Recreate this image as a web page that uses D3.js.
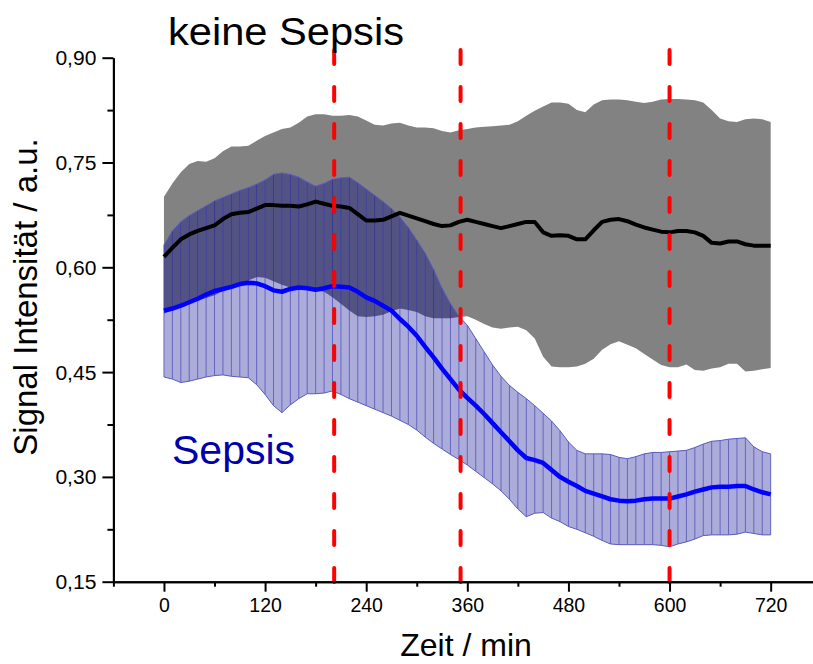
<!DOCTYPE html>
<html>
<head>
<meta charset="utf-8">
<script src="https://cdn.jsdelivr.net/npm/d3@7"></script>
<style>
  body { margin: 0; background: #fff; }
  text { font-family: "Liberation Sans", Arial, sans-serif; }
</style>
</head>
<body>
<script>
//Time points (min)
var time = [0,10,20,30,40,50,60,70,80,90,
    100,110,120,130,140,150,160,170,180,190,
    200,210,220,230,240,250,260,270,280,290,
    300,310,320,330,340,350,360,370,380,390,
    400,410,420,430,440,450,460,470,480,490,
    500,510,520,530,540,550,560,570,580,590,
    600,610,620,630,640,650,660,670,680,690,
    700,710,720];

//keine Sepsis: mean, upper, lower
var kMean = [0.615,0.628,0.640,0.647,0.652,0.656,0.660,0.669,0.676,0.678,
    0.679,0.684,0.689,0.689,0.688,0.688,0.687,0.690,0.694,0.691,
    0.688,0.687,0.685,0.676,0.667,0.667,0.668,0.673,0.678,0.674,
    0.670,0.666,0.662,0.659,0.660,0.665,0.668,0.665,0.662,0.659,
    0.656,0.659,0.662,0.665,0.665,0.650,0.645,0.646,0.645,0.640,
    0.640,0.653,0.665,0.668,0.669,0.666,0.661,0.657,0.654,0.651,
    0.650,0.652,0.652,0.650,0.645,0.635,0.634,0.637,0.637,0.633,
    0.631,0.631,0.631];
var kHi = [0.701,0.720,0.736,0.748,0.752,0.751,0.756,0.766,0.773,0.773,
    0.774,0.781,0.788,0.793,0.798,0.800,0.807,0.816,0.819,0.819,
    0.817,0.817,0.818,0.816,0.810,0.804,0.803,0.806,0.807,0.803,
    0.800,0.800,0.799,0.795,0.793,0.796,0.798,0.800,0.801,0.802,
    0.803,0.804,0.809,0.817,0.824,0.830,0.836,0.836,0.834,0.825,
    0.822,0.833,0.839,0.840,0.840,0.839,0.837,0.835,0.837,0.840,
    0.841,0.841,0.840,0.839,0.836,0.825,0.813,0.809,0.808,0.812,
    0.813,0.812,0.808];
var kLo = [0.534,0.538,0.543,0.548,0.552,0.556,0.560,0.566,0.571,0.576,
    0.581,0.586,0.585,0.580,0.575,0.571,0.570,0.568,0.567,0.565,
    0.557,0.548,0.538,0.530,0.529,0.530,0.532,0.537,0.541,0.539,
    0.536,0.530,0.527,0.527,0.527,0.529,0.530,0.525,0.519,0.514,
    0.512,0.514,0.515,0.510,0.498,0.472,0.458,0.457,0.457,0.458,
    0.462,0.469,0.482,0.490,0.494,0.489,0.484,0.476,0.468,0.460,
    0.457,0.457,0.461,0.453,0.452,0.455,0.457,0.462,0.462,0.451,
    0.452,0.454,0.456];

//Sepsis: mean, upper, lower
var sMean = [0.538,0.541,0.545,0.550,0.555,0.561,0.566,0.569,0.572,0.576,
    0.578,0.577,0.573,0.567,0.565,0.569,0.571,0.570,0.568,0.570,
    0.573,0.572,0.571,0.565,0.557,0.552,0.545,0.538,0.526,0.515,
    0.502,0.486,0.471,0.455,0.440,0.425,0.413,0.402,0.390,0.377,
    0.364,0.351,0.338,0.327,0.324,0.320,0.310,0.300,0.293,0.287,
    0.280,0.276,0.272,0.268,0.266,0.265,0.266,0.268,0.269,0.269,
    0.269,0.272,0.275,0.279,0.282,0.285,0.286,0.286,0.287,0.287,
    0.282,0.278,0.275];
var sHi = [0.632,0.652,0.665,0.674,0.681,0.688,0.695,0.700,0.705,0.710,
    0.714,0.719,0.725,0.733,0.735,0.733,0.729,0.722,0.716,0.720,
    0.726,0.728,0.729,0.721,0.712,0.703,0.694,0.684,0.672,0.657,
    0.639,0.620,0.597,0.570,0.548,0.530,0.517,0.498,0.479,0.460,
    0.444,0.431,0.421,0.412,0.402,0.391,0.380,0.366,0.350,0.338,
    0.333,0.333,0.333,0.332,0.328,0.326,0.329,0.333,0.335,0.335,
    0.336,0.337,0.338,0.342,0.347,0.351,0.352,0.354,0.355,0.356,
    0.343,0.336,0.333];
var sLo = [0.443,0.440,0.435,0.437,0.440,0.443,0.445,0.446,0.444,0.443,
    0.442,0.432,0.418,0.402,0.392,0.403,0.412,0.419,0.419,0.420,
    0.423,0.418,0.412,0.407,0.402,0.397,0.392,0.387,0.381,0.375,
    0.367,0.357,0.348,0.340,0.332,0.325,0.317,0.308,0.299,0.290,
    0.280,0.268,0.254,0.243,0.248,0.249,0.241,0.236,0.229,0.225,
    0.220,0.215,0.209,0.204,0.203,0.203,0.203,0.203,0.203,0.202,
    0.200,0.204,0.207,0.211,0.216,0.217,0.217,0.217,0.218,0.221,
    0.219,0.217,0.217];

//Marker times (red dashed lines)
var markers = [202, 352, 600];

//Ticks
var xTicks = [0, 120, 240, 360, 480, 600, 720];
var xMinor = [-60, 60, 180, 300, 420, 540, 660];
var yTicks = [0.15, 0.30, 0.45, 0.60, 0.75, 0.90];
var yMinor = [0.225, 0.375, 0.525, 0.675, 0.825];
var yTickLabels = ["0,15", "0,30", "0,45", "0,60", "0,75", "0,90"];

//Width and height
var w = 813;
var h = 664;

var xScale = d3.scaleLinear()
    .domain([-60, 770])
    .range([113.4, 812.8]);

var yScale = d3.scaleLinear()
    .domain([0.15, 0.90])
    .range([581.7, 57.7]);

var rows = time.map(function(t, i) {
    return { t: t, km: kMean[i], kh: kHi[i], kl: kLo[i], sm: sMean[i], sh: sHi[i], sl: sLo[i] };
});

//Create SVG element
var svg = d3.select("body")
    .append("svg")
    .attr("width", w)
    .attr("height", h);

var kArea = d3.area()
    .x(d => xScale(d.t))
    .y0(d => yScale(d.kl))
    .y1(d => yScale(d.kh));

var sArea = d3.area()
    .x(d => xScale(d.t))
    .y0(d => yScale(d.sl))
    .y1(d => yScale(d.sh));

svg.append("clipPath")
    .attr("id", "grayClip")
    .append("path")
    .attr("d", kArea(rows));

//keine Sepsis band
svg.append("path")
    .attr("d", kArea(rows))
    .attr("fill", "#828282");

//Sepsis band, light over white, dark where it sits over the gray band
svg.append("path")
    .attr("d", sArea(rows))
    .attr("fill", "#acacda");

svg.append("path")
    .attr("d", sArea(rows))
    .attr("fill", "#525283")
    .attr("clip-path", "url(#grayClip)");

//vertical drop lines in the Sepsis band
svg.append("g")
    .selectAll("line")
    .data(rows)
    .enter()
    .append("line")
    .attr("x1", d => xScale(d.t))
    .attr("x2", d => xScale(d.t))
    .attr("y1", d => yScale(d.sl))
    .attr("y2", d => yScale(d.sh))
    .attr("stroke", "#6565c2")
    .attr("stroke-width", 1);

svg.append("g")
    .attr("clip-path", "url(#grayClip)")
    .selectAll("line")
    .data(rows)
    .enter()
    .append("line")
    .attr("x1", d => xScale(d.t))
    .attr("x2", d => xScale(d.t))
    .attr("y1", d => yScale(d.sl))
    .attr("y2", d => yScale(d.sh))
    .attr("stroke", "#3a3a8c")
    .attr("stroke-width", 1);

//band edges
["sh", "sl"].forEach(function(k) {
    svg.append("path")
        .attr("d", d3.line().x(d => xScale(d.t)).y(d => yScale(d[k]))(rows))
        .attr("fill", "none")
        .attr("stroke", "#5a5abf")
        .attr("stroke-width", 1);
});

//mean lines
svg.append("path")
    .attr("d", d3.line().x(d => xScale(d.t)).y(d => yScale(d.km))(rows))
    .attr("fill", "none")
    .attr("stroke", "#000")
    .attr("stroke-width", 4)
    .attr("stroke-linejoin", "round");

svg.append("path")
    .attr("d", d3.line().x(d => xScale(d.t)).y(d => yScale(d.sm))(rows))
    .attr("fill", "none")
    .attr("stroke", "#0000ff")
    .attr("stroke-width", 4.5)
    .attr("stroke-linejoin", "round");

//red dashed markers
svg.selectAll(".marker")
    .data(markers)
    .enter()
    .append("line")
    .attr("class", "marker")
    .attr("x1", d => xScale(d))
    .attr("x2", d => xScale(d))
    .attr("y1", 50)
    .attr("y2", 584)
    .attr("stroke", "#ff0000")
    .attr("stroke-width", 4)
    .attr("stroke-linecap", "round")
    .attr("stroke-dasharray", "14,23");

//Axes
var xAxis = svg.append("g")
    .attr("transform", "translate(0," + yScale(0.15) + ")")
    .call(d3.axisBottom(xScale).tickValues(xTicks).tickSize(10).tickSizeOuter(0).tickPadding(6));
svg.append("g")
    .attr("transform", "translate(0," + yScale(0.15) + ")")
    .call(d3.axisBottom(xScale).tickValues(xMinor).tickSize(5).tickSizeOuter(0).tickFormat(""));

var yAxis = svg.append("g")
    .attr("transform", "translate(" + xScale(-60) + ",0)")
    .call(d3.axisLeft(yScale).tickValues(yTicks).tickSize(11).tickSizeOuter(0).tickPadding(6)
        .tickFormat(function(d, i) { return yTickLabels[i]; }));
svg.append("g")
    .attr("transform", "translate(" + xScale(-60) + ",0)")
    .call(d3.axisLeft(yScale).tickValues(yMinor).tickSize(6).tickSizeOuter(0).tickFormat(""));

svg.selectAll(".domain, .tick line")
    .attr("stroke", "#000")
    .attr("stroke-width", 2);

xAxis.selectAll("text")
    .attr("font-size", "19.5px")
    .attr("fill", "#000");

yAxis.selectAll("text")
    .attr("font-size", "19.5px")
    .attr("fill", "#000")
    .attr("textLength", 41)
    .attr("lengthAdjust", "spacingAndGlyphs")
    .attr("dy", "0.36em");

//Axis titles
svg.append("text")
    .text("Zeit / min")
    .attr("x", 466)
    .attr("y", 656)
    .attr("text-anchor", "middle")
    .attr("font-size", "32px");

svg.append("text")
    .text("Signal Intensität / a.u.")
    .attr("transform", "translate(37,297) rotate(-90)")
    .attr("text-anchor", "middle")
    .attr("font-size", "33px");

//Labels
svg.append("text")
    .text("keine Sepsis")
    .attr("x", 168)
    .attr("y", 45)
    .attr("font-size", "38px")
    .attr("textLength", 236)
    .attr("lengthAdjust", "spacingAndGlyphs");

svg.append("text")
    .text("Sepsis")
    .attr("x", 172)
    .attr("y", 464)
    .attr("font-size", "41px")
    .attr("fill", "#0000a8");
</script>
</body>
</html>
